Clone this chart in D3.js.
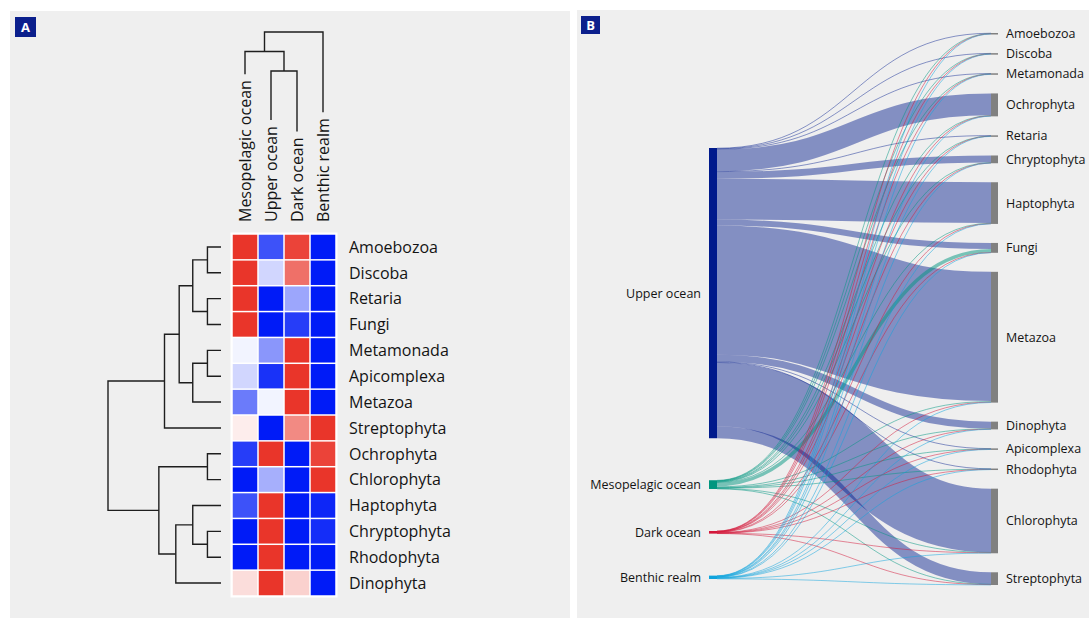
<!DOCTYPE html>
<html>
<head>
<meta charset="utf-8">
<script src="https://cdn.jsdelivr.net/npm/d3@7"></script>
<style>
  body { margin: 0; background: #fff; font-family: "Open Sans", sans-serif; }
</style>
</head>
<body>
<div class="container"></div>
<script>
const w = 1089;
const h = 619;

// ---- panel A: heatmap data (dendrogram order) ----
const taxa = ["Amoebozoa", "Discoba", "Retaria", "Fungi", "Metamonada", "Apicomplexa", "Metazoa",
  "Streptophyta", "Ochrophyta", "Chlorophyta", "Haptophyta", "Chryptophyta", "Rhodophyta", "Dinophyta"];
const realms = ["Mesopelagic ocean", "Upper ocean", "Dark ocean", "Benthic realm"];

// scaled abundance per realm, one value per taxon (-1 blue .. 1 red)
const zMeso    = [1, 1, 1, 1, -0.05, -0.18, -0.58, 0.09, -0.85, -1, -0.76, -1, -1, 0.17];
const zUpper   = [-0.76, -0.18, -1, -1, -0.46, -0.9, -0.05, -1, 1, -0.35, 1, 1, 1, 1];
const zDark    = [0.93, 0.71, -0.39, -0.85, 1, 1, 1, 0.58, -1, -1, -1, -1, -1, 0.23];
const zBenthic = [-1, -1, -1, -1, -1, -1, -1, 1, 0.93, 1, -0.95, -0.92, -1, -1];

// hclust style merges: [left, right, height]; numbers point to earlier merges
const rowMerges = [
  ["Amoebozoa", "Discoba", 0.12],
  ["Retaria", "Fungi", 0.12],
  [0, 1, 0.25],
  ["Metamonada", "Apicomplexa", 0.12],
  [3, "Metazoa", 0.25],
  [2, 4, 0.37],
  [5, "Streptophyta", 0.5],
  ["Ochrophyta", "Chlorophyta", 0.12],
  ["Chryptophyta", "Rhodophyta", 0.12],
  ["Haptophyta", 8, 0.25],
  [9, "Dinophyta", 0.4],
  [7, 10, 0.55],
  [6, 11, 1.0]
];
const colMerges = [
  ["Upper ocean", "Dark ocean", 0.5],
  ["Mesopelagic ocean", 0, 0.75],
  [1, "Benthic realm", 1.0]
];

// ---- panel B: sankey data ----
const sources = ["Upper ocean", "Mesopelagic ocean", "Dark ocean", "Benthic realm"];
const targets = ["Amoebozoa", "Discoba", "Metamonada", "Ochrophyta", "Retaria", "Chryptophyta", "Haptophyta",
  "Fungi", "Metazoa", "Dinophyta", "Apicomplexa", "Rhodophyta", "Chlorophyta", "Streptophyta"];
const upperFlow   = [0.5, 0.5, 0.5, 22, 0.5, 7, 41, 6, 130, 7, 0.5, 0.5, 64, 12];
const mesoFlow    = [0.3, 0.3, 0.3, 0.5, 0.3, 0.4, 0.5, 3.5, 1, 0.4, 0.3, 0.3, 0.4, 0.3];
const darkFlow    = [0.15, 0.15, 0.15, 0.25, 0.15, 0.2, 0.2, 0.2, 0.3, 0.2, 0.15, 0.15, 0.2, 0.2];
const benthicFlow = [0.2, 0.2, 0.2, 0.3, 0.2, 0.2, 0.25, 0.25, 0.3, 0.2, 0.2, 0.2, 0.4, 0.3];

const sourceColors = ["#001a8c", "#00967f", "#d3173a", "#0ea3dd"];

const svg = d3.select('.container').append('svg')
  .attr('width', w)
  .attr('height', h);

// panels
svg.append('rect').attr('x', 10).attr('y', 11).attr('width', 560).attr('height', 607).attr('fill', '#efefef');
svg.append('rect').attr('x', 577).attr('y', 10).attr('width', 512).attr('height', 608).attr('fill', '#efefef');

const tag = function(x, y, bw, bh, t) {
  svg.append('rect').attr('x', x).attr('y', y).attr('width', bw).attr('height', bh).attr('fill', '#0b1f8c');
  svg.append('text').attr('x', x + bw / 2).attr('y', y + bh / 2).attr('dy', '0.36em')
    .attr('text-anchor', 'middle').attr('fill', '#fff').attr('font-weight', 'bold')
    .attr('font-size', 13).text(t);
};
tag(15, 17, 21, 20, 'A');
tag(581, 16, 19, 18, 'B');

// ================= heatmap =================
const xCell = d3.scaleBand().domain(realms).range([232, 336]);
const yCell = d3.scaleBand().domain(taxa).range([234, 596]);
const color = d3.scaleLinear().domain([-1, 0, 1]).range(["#001bf7", "#ffffff", "#e9352a"]);
const zCols = [zMeso, zUpper, zDark, zBenthic];

svg.append('rect')
  .attr('x', xCell.range()[0] - 1.5).attr('y', yCell.range()[0] - 1.5)
  .attr('width', xCell.range()[1] - xCell.range()[0] + 3)
  .attr('height', yCell.range()[1] - yCell.range()[0] + 3)
  .attr('fill', '#fff');

const cells = [];
realms.forEach((r, i) => taxa.forEach((t, j) => cells.push({r: r, t: t, v: zCols[i][j]})));

svg.selectAll('rect.cell')
  .data(cells)
  .enter()
  .append('rect')
  .attr('class', 'cell')
  .attr('x', d => xCell(d.r) + 0.75)
  .attr('y', d => yCell(d.t) + 0.75)
  .attr('width', xCell.bandwidth() - 1.5)
  .attr('height', yCell.bandwidth() - 1.5)
  .attr('fill', d => color(d.v));

svg.selectAll('text.rowlab')
  .data(taxa)
  .enter()
  .append('text')
  .attr('class', 'rowlab')
  .attr('x', 349)
  .attr('y', d => yCell(d) + yCell.bandwidth() / 2)
  .attr('dy', '0.36em')
  .attr('font-size', 16)
  .attr('fill', '#141414')
  .text(d => d);

const colLab = svg.selectAll('text.collab')
  .data(realms)
  .enter()
  .append('text')
  .attr('class', 'collab')
  .attr('transform', d => "translate(" + (xCell(d) + xCell.bandwidth() / 2) + ",222) rotate(-90)")
  .attr('dy', '0.36em')
  .attr('font-size', 16)
  .attr('fill', '#141414')
  .text(d => d);

// label lengths decide where the column leaves stop
const labLen = {};
colLab.each(function(d) { labLen[d] = this.getComputedTextLength(); });

const dendroLine = svg.append('g')
  .attr('fill', 'none')
  .attr('stroke', '#1e1e1e')
  .attr('stroke-width', 1.4);

// column dendrogram
const colY = d3.scaleLinear().domain([0, 1]).range([110, 32]);
const colNodes = [];
const colNode = k => typeof k === 'number' ? colNodes[k]
  : {x: xCell(k) + xCell.bandwidth() / 2, y: 222 - labLen[k] - 6};
colMerges.forEach(m => {
  const a = colNode(m[0]), b = colNode(m[1]);
  const top = colY(m[2]);
  colNodes.push({x: (a.x + b.x) / 2, y: top});
  dendroLine.append('path')
    .attr('d', "M" + a.x + "," + a.y + "V" + top + "H" + b.x + "V" + b.y);
});

// row dendrogram
const rowX = d3.scaleLinear().domain([0, 1]).range([221, 108]);
const rowNodes = [];
const rowNode = k => typeof k === 'number' ? rowNodes[k]
  : {x: rowX(0), y: yCell(k) + yCell.bandwidth() / 2};
rowMerges.forEach(m => {
  const a = rowNode(m[0]), b = rowNode(m[1]);
  const left = rowX(m[2]);
  rowNodes.push({x: left, y: (a.y + b.y) / 2});
  dendroLine.append('path')
    .attr('d', "M" + a.x + "," + a.y + "H" + left + "V" + b.y + "H" + b.x);
});

// ================= sankey =================
const flows = [upperFlow, mesoFlow, darkFlow, benthicFlow];
const nodeTop = 33, nodeBottom = 585, nodePad = 19;
const leftBottom = 579, leftPad = 42;
const leftX = [709, 717], rightX = [991, 998];

const targetTotals = targets.map((t, j) => d3.sum(flows, f => f[j]));
const sourceTotals = flows.map(f => d3.sum(f));
const ky = (nodeBottom - nodeTop - nodePad * (targets.length - 1)) / d3.sum(targetTotals);
const vScale = d3.scaleLinear().domain([0, 1]).range([0, ky]);

// right column, stacked from the top
const tNodes = [];
let yy = nodeTop;
targets.forEach((t, j) => {
  tNodes.push({name: t, y0: yy, y1: yy + vScale(targetTotals[j])});
  yy += vScale(targetTotals[j]) + nodePad;
});
// left column, stacked from the bottom
const sNodes = [];
yy = leftBottom;
for (let i = sources.length - 1; i >= 0; i--) {
  sNodes[i] = {name: sources[i], y0: yy - vScale(sourceTotals[i]), y1: yy};
  yy -= vScale(sourceTotals[i]) + leftPad;
}

const links = [];
sources.forEach((s, i) => {
  targets.forEach((t, j) => {
    const wd = vScale(flows[i][j]);
    const outBefore = d3.sum(flows[i].slice(0, j));
    const inBefore = d3.sum(flows.slice(0, i), f => f[j]);
    links.push({
      i: i,
      width: wd,
      y0: sNodes[i].y0 + vScale(outBefore) + wd / 2,
      y1: tNodes[j].y0 + vScale(inBefore) + wd / 2
    });
  });
});

const linkPath = d3.linkHorizontal();
svg.append('g')
  .attr('fill', 'none')
  .selectAll('path')
  .data(links)
  .enter()
  .append('path')
  .attr('d', d => linkPath({source: [leftX[1], d.y0], target: [rightX[0], d.y1]}))
  .attr('stroke', d => sourceColors[d.i])
  .attr('stroke-opacity', d => d.i === 0 ? 0.45 : 0.5)
  .attr('stroke-width', d => Math.max(1, d.width));

svg.selectAll('rect.snode')
  .data(sNodes)
  .enter()
  .append('rect')
  .attr('class', 'snode')
  .attr('x', leftX[0])
  .attr('y', d => d.y0)
  .attr('width', leftX[1] - leftX[0])
  .attr('height', d => Math.max(1.5, d.y1 - d.y0))
  .attr('fill', (d, i) => sourceColors[i]);

svg.selectAll('rect.tnode')
  .data(tNodes)
  .enter()
  .append('rect')
  .attr('class', 'tnode')
  .attr('x', rightX[0])
  .attr('y', d => d.y0)
  .attr('width', rightX[1] - rightX[0])
  .attr('height', d => Math.max(1.5, d.y1 - d.y0))
  .attr('fill', '#808080');

svg.selectAll('text.slab')
  .data(sNodes)
  .enter()
  .append('text')
  .attr('class', 'slab')
  .attr('x', leftX[0] - 8)
  .attr('y', d => (d.y0 + d.y1) / 2)
  .attr('dy', '0.36em')
  .attr('text-anchor', 'end')
  .attr('font-size', 12.5)
  .attr('fill', '#141414')
  .text(d => d.name);

svg.selectAll('text.tlab')
  .data(tNodes)
  .enter()
  .append('text')
  .attr('class', 'tlab')
  .attr('x', rightX[1] + 8)
  .attr('y', d => (d.y0 + d.y1) / 2)
  .attr('dy', '0.36em')
  .attr('font-size', 12.5)
  .attr('fill', '#141414')
  .text(d => d.name);
</script>
</body>
</html>
